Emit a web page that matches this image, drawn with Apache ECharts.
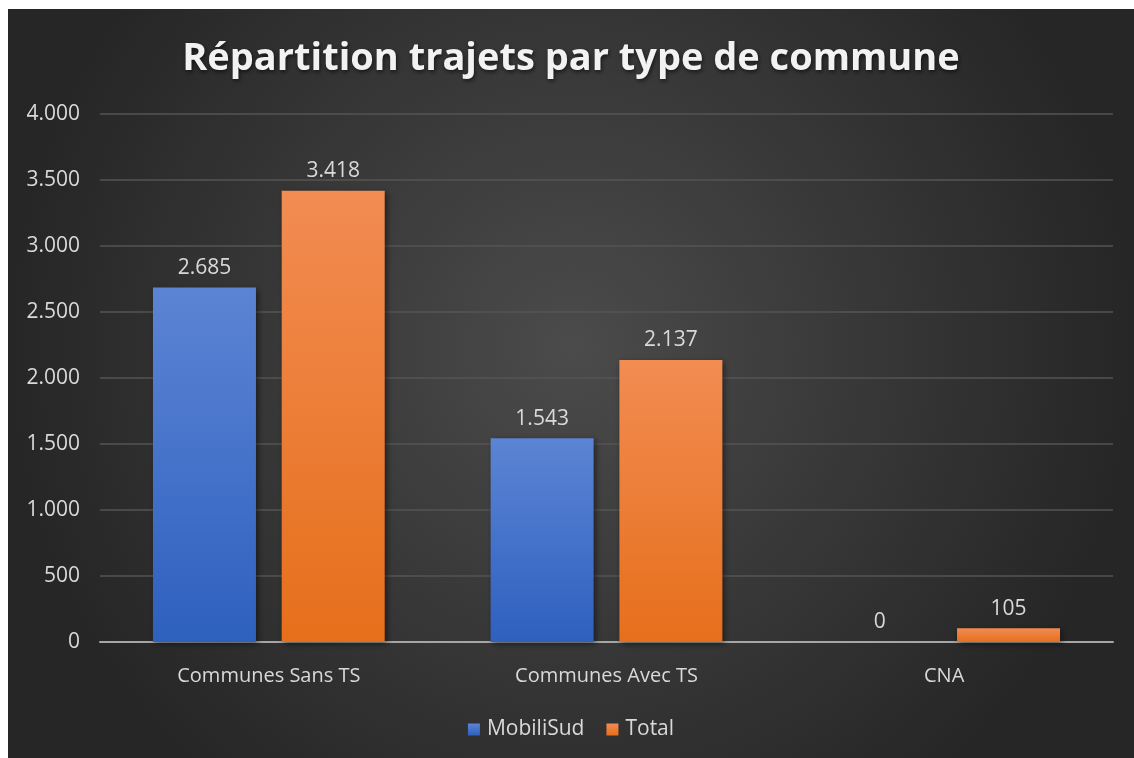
<!DOCTYPE html>
<html>
<head>
<meta charset="utf-8">
<script src="https://cdn.jsdelivr.net/npm/echarts@6/dist/echarts.min.js"></script>
<style>
  html, body { margin: 0; padding: 0; background: #fff; }
  #chart { position: absolute; left: 8px; top: 9px; width: 1126px; height: 749px; }
</style>
</head>
<body>
<div id="chart"></div>
<script>
// données du graphique
const categories = ['Communes Sans TS', 'Communes Avec TS', 'CNA']
const mobiliSud = [2685, 1543, 0]
const total = [3418, 2137, 105]
const yTicks = { min: 0, max: 4000, interval: 500 }

// format 1.234 (séparateur de milliers)
function fmt(v) {
  return String(v).replace(/\B(?=(\d{3})+(?!\d))/g, '.')
}

const myChart = echarts.init(document.getElementById('chart'))
const labelFont = 'Open Sans, sans-serif'

myChart.setOption({
  backgroundColor: new echarts.graphic.RadialGradient(0.5, 0.45, 0.75, [
    { offset: 0, color: '#4b4b4b' },
    { offset: 1, color: '#262626' }
  ]),
  title: {
    text: 'Répartition trajets par type de commune',
    left: 'center',
    top: 26,
    textStyle: {
      color: '#f2f2f2',
      fontFamily: labelFont,
      fontWeight: 'bold',
      fontSize: 38,
      textShadowColor: 'rgba(0,0,0,0.6)',
      textShadowBlur: 4,
      textShadowOffsetX: 1,
      textShadowOffsetY: 2
    }
  },
  legend: {
    data: ['MobiliSud', 'Total'],
    bottom: 13,
    left: 'center',
    itemWidth: 12,
    itemHeight: 12,
    itemGap: 22,
    icon: 'rect',
    textStyle: { color: '#d9d9d9', fontSize: 21, fontFamily: labelFont, padding: [0, 0, 0, 2] }
  },
  grid: {
    left: 92,
    right: 21,
    top: 105,
    bottom: 116
  },
  xAxis: {
    type: 'category',
    data: categories,
    axisTick: { show: false },
    axisLine: { lineStyle: { color: '#a6a6a6', width: 2 } },
    axisLabel: { color: '#d9d9d9', fontSize: 20, fontFamily: labelFont, margin: 24 }
  },
  yAxis: {
    type: 'value',
    min: yTicks.min,
    max: yTicks.max,
    interval: yTicks.interval,
    axisLine: { show: false },
    axisTick: { show: false },
    axisLabel: {
      color: '#d9d9d9',
      fontSize: 21,
      fontFamily: labelFont,
      margin: 20,
      formatter: fmt
    },
    splitLine: { lineStyle: { color: '#555555', width: 1.5 } }
  },
  series: [
    {
      name: 'MobiliSud',
      type: 'bar',
      data: mobiliSud,
      barWidth: 103,
      barGap: '25%',
      itemStyle: {
        color: new echarts.graphic.LinearGradient(0, 0, 0, 1, [
          { offset: 0, color: '#5c84d4' },
          { offset: 1, color: '#2e60bf' }
        ]),
        shadowColor: 'rgba(0,0,0,0.5)',
        shadowBlur: 6,
        shadowOffsetX: 2,
        shadowOffsetY: 2
      },
      label: {
        show: true,
        position: 'top',
        distance: 9,
        color: '#d9d9d9',
        fontSize: 21,
        fontFamily: labelFont,
        formatter: p => fmt(p.value)
      }
    },
    {
      name: 'Total',
      type: 'bar',
      data: total,
      barWidth: 103,
      itemStyle: {
        color: new echarts.graphic.LinearGradient(0, 0, 0, 1, [
          { offset: 0, color: '#f28c52' },
          { offset: 1, color: '#e66f1b' }
        ]),
        shadowColor: 'rgba(0,0,0,0.5)',
        shadowBlur: 6,
        shadowOffsetX: 2,
        shadowOffsetY: 2
      },
      label: {
        show: true,
        position: 'top',
        distance: 9,
        color: '#d9d9d9',
        fontSize: 21,
        fontFamily: labelFont,
        formatter: p => fmt(p.value)
      }
    }
  ]
})
</script>
</body>
</html>
